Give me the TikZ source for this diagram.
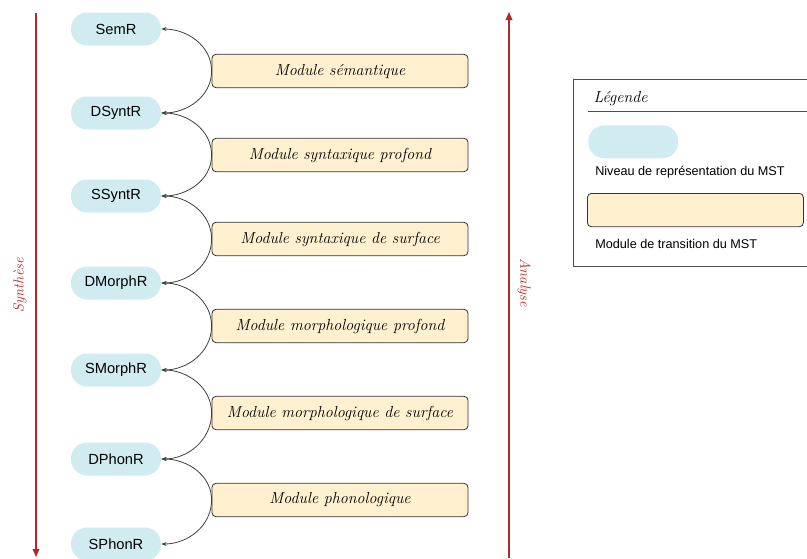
\documentclass[tikz,border=0pt]{standalone}
\usepackage{fontspec}
\setsansfont{Liberation Sans}
\usepackage{tikz}
\usetikzlibrary{arrows.meta}

\definecolor{niveaubleu}{RGB}{208,236,241}
\definecolor{moduleor}{RGB}{255,240,207}
\definecolor{sensrouge}{RGB}{176,40,43}

\tikzset{
  niveau/.style={fill=niveaubleu, rounded corners=12pt, minimum width=67.5pt, minimum height=24.75pt, inner sep=0pt, font=\sffamily\fontsize{11}{13}\selectfont},
  module/.style={draw=black!80, fill=moduleor, rounded corners=3pt, minimum width=192pt, minimum height=25pt, inner sep=0pt, line width=0.6pt, font=\itshape\fontsize{12}{14}\selectfont},
  passage/.style={-{Stealth[length=4pt,width=3pt]}, draw=black!75, line width=0.6pt},
  sens/.style={draw=sensrouge, line width=1pt, -{Triangle[length=6pt,width=5pt]}},
  senstxt/.style={text=sensrouge, font=\itshape\fontsize{11}{13}\selectfont}
}

\begin{document}
\begin{tikzpicture}[x=0.75pt,y=0.75pt,yscale=-1,xscale=1]
\useasboundingbox (0,0) rectangle (807,558);

%Niveaux de representation
\node[niveau] (semr) at (116,29) {SemR};
\node[niveau] (dsyntr) at (116,113) {DSyntR};
\node[niveau] (ssyntr) at (116,196) {SSyntR};
\node[niveau] (dmorphr) at (116,283) {DMorphR};
\node[niveau] (smorphr) at (116,370) {SMorphR};
\node[niveau] (dphonr) at (116,459) {DPhonR};
\node[niveau] (sphonr) at (116,544) {SPhonR};

%Modules de transition
\node[module] (msem) at (340,71) {Module sémantique};
\node[module] (msyntp) at (340,155) {Module syntaxique profond};
\node[module] (msynts) at (340,239) {Module syntaxique de surface};
\node[module] (mmorphp) at (340,326) {Module morphologique profond};
\node[module] (mmorphs) at (340,413) {Module morphologique de surface};
\node[module] (mphon) at (340,500) {Module phonologique};

%Fleches courbes (yscale=-1 : -90 vers le haut)
\draw[passage] (msem.west) to[out=-90,in=0] (semr.east);
\draw[passage] (msem.west) to[out=90,in=0] (dsyntr.east);
\draw[passage] (msyntp.west) to[out=-90,in=0] (dsyntr.east);
\draw[passage] (msyntp.west) to[out=90,in=0] (ssyntr.east);
\draw[passage] (msynts.west) to[out=-90,in=0] (ssyntr.east);
\draw[passage] (msynts.west) to[out=90,in=0] (dmorphr.east);
\draw[passage] (mmorphp.west) to[out=-90,in=0] (dmorphr.east);
\draw[passage] (mmorphp.west) to[out=90,in=0] (smorphr.east);
\draw[passage] (mmorphs.west) to[out=-90,in=0] (smorphr.east);
\draw[passage] (mmorphs.west) to[out=90,in=0] (dphonr.east);
\draw[passage] (mphon.west) to[out=-90,in=0] (dphonr.east);
\draw[passage] (mphon.west) to[out=90,in=0] (sphonr.east);

%Sens synthese / analyse
\coordinate (synhaut) at (36,13);
\coordinate (synbas) at (36,557);
\draw[sens] (synhaut) -- (synbas);
\node[senstxt, rotate=90] (synthese) at (20,285) {Synthèse};
\coordinate (anabas) at (509,558);
\coordinate (anahaut) at (509,12);
\draw[sens] (anabas) -- (anahaut);
\node[senstxt, rotate=-90] (analyse) at (524,283) {Analyse};

%Legende
\draw[draw=black!70, line width=0.6pt] (573,79) rectangle (815,266);
\node[anchor=west, font=\itshape\fontsize{12}{14}\selectfont] (legtitre) at (589,99) {Légende};
\coordinate (legg) at (588,111);
\coordinate (legd) at (807,111);
\draw[draw=black!70, line width=0.5pt] (legg) -- (legd);
\node[niveau, minimum width=67.5pt, anchor=north west] (legniveau) at (588,125) {};
\node[anchor=west, inner sep=0pt, font=\sffamily\fontsize{9.5}{11}\selectfont] (legniveautxt) at (595,172) {Niveau de représentation du MST};
\node[module, minimum width=162pt, anchor=north west] (legmodule) at (587,193) {};
\node[anchor=west, inner sep=0pt, font=\sffamily\fontsize{9.5}{11}\selectfont] (legmoduletxt) at (595,244) {Module de transition du MST};

\end{tikzpicture}
\end{document}
